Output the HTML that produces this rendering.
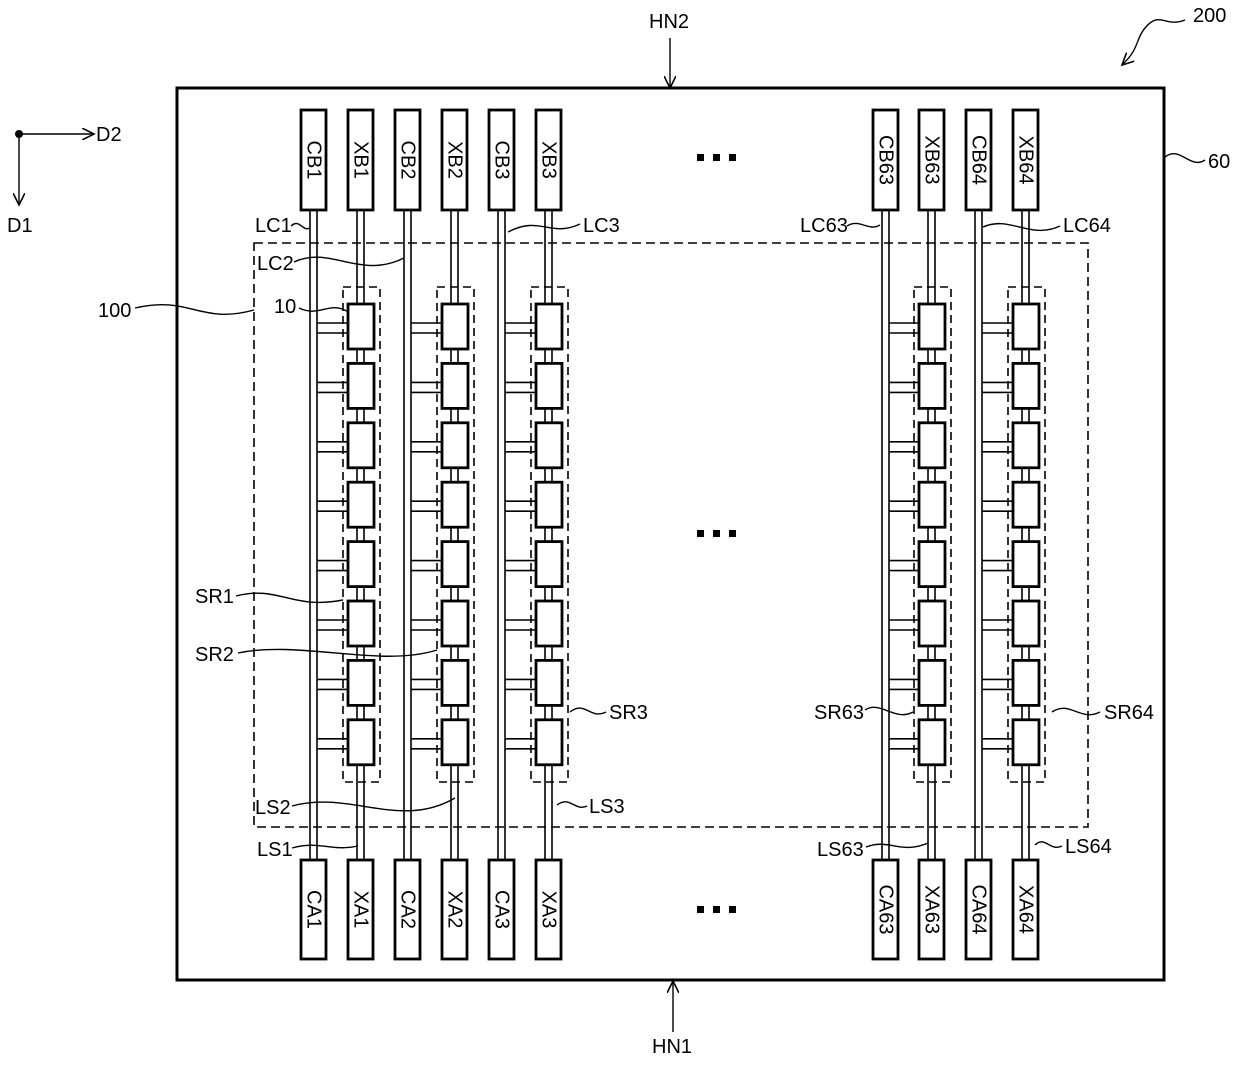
<!DOCTYPE html>
<html><head><meta charset="utf-8"><style>
html,body{margin:0;padding:0;background:#fff}
svg{display:block}
text{font-family:"Liberation Sans",sans-serif;fill:#000}
</style></head><body>
<svg width="1240" height="1067" viewBox="0 0 1240 1067" xmlns="http://www.w3.org/2000/svg">
<defs>
<marker id="ah" markerWidth="14" markerHeight="12" refX="12" refY="6" orient="auto" markerUnits="userSpaceOnUse">
<path d="M0,0 L12,6 L0,12" fill="none" stroke="#000" stroke-width="1.6"/>
</marker>
</defs>
<g fill="none" stroke="#000">
<rect x="177" y="88" width="987" height="892" stroke-width="3"/>
<rect x="254" y="243" width="834" height="584" stroke-width="1.6" stroke-dasharray="9,5"/>
</g>
<g id="cols"></g>
<script>
(function(){
var ns="http://www.w3.org/2000/svg",g=document.getElementById("cols");
function el(t,a,txt){var e=document.createElementNS(ns,t);for(var k in a)e.setAttribute(k,a[k]);if(txt)e.textContent=txt;g.appendChild(e);return e;}
function line(x1,y1,x2,y2,w){el("line",{x1:x1,y1:y1,x2:x2,y2:y2,stroke:"#000","stroke-width":w||1.6});}
function pad(x,y,h,lbl){el("rect",{x:x,y:y,width:25,height:h,fill:"#fff",stroke:"#000","stroke-width":2.8});
 var cx=x+12.5,cy=y+h/2;el("text",{x:cx,y:cy,"font-size":20,"text-anchor":"middle","dominant-baseline":"central",transform:"rotate(90 "+cx+" "+cy+")"},lbl);}
var cols=[[301,348,"1"],[395,442,"2"],[489,536,"3"],[873,919,"63"],[966,1013,"64"]];
cols.forEach(function(c){
 var cb=c[0],xb=c[1],n=c[2];
 line(cb+9,210,cb+9,860);line(cb+16,210,cb+16,860);
 el("rect",{x:xb-5,y:287,width:37,height:495,fill:"none",stroke:"#000","stroke-width":1.6,"stroke-dasharray":"8,5"});
 var tops=[];for(var i=0;i<8;i++)tops.push(304+59.4*i);
 line(xb+9,210,xb+9,304);line(xb+16,210,xb+16,304);
 for(i=0;i<8;i++){var t=tops[i];
  line(cb+16,t+19,xb,t+19);line(cb+16,t+29,xb,t+29);
  if(i<7){line(xb+9,t+45,xb+9,tops[i+1]);line(xb+16,t+45,xb+16,tops[i+1]);}
  el("rect",{x:xb,y:t,width:26,height:45,fill:"#fff",stroke:"#000","stroke-width":2.8});
 }
 line(xb+9,tops[7]+45,xb+9,860);line(xb+16,tops[7]+45,xb+16,860);
 pad(cb,110,100,"CB"+n);pad(xb,110,100,"XB"+n);
 pad(cb,860,99,"CA"+n);pad(xb,860,99,"XA"+n);
});
})();
</script>
<g fill="#000">
<rect x="697" y="154" width="7" height="7"/><rect x="713" y="154" width="7" height="7"/><rect x="729" y="154" width="7" height="7"/>
<rect x="697" y="530" width="7" height="7"/><rect x="713" y="530" width="7" height="7"/><rect x="729" y="530" width="7" height="7"/>
<rect x="697" y="906" width="7" height="7"/><rect x="713" y="906" width="7" height="7"/><rect x="729" y="906" width="7" height="7"/>
</g>
<g fill="none" stroke="#000" stroke-width="1.4">
<path d="M291,226 C300,218 302,232 310,228"/>
<path d="M294,262 C330,245 360,280 404,258"/>
<path d="M508,232 C540,215 550,238 580,224"/>
<path d="M299,308 C320,318 330,300 348,312"/>
<path d="M135,308 C190,295 200,325 254,310"/>
<path d="M236,596 C280,585 290,610 343,600"/>
<path d="M238,653 C300,640 380,668 437,650"/>
<path d="M570,712 C585,700 590,720 606,712"/>
<path d="M292,806 C350,790 400,830 455,798"/>
<path d="M292,848 C320,840 330,852 358,846"/>
<path d="M557,805 C570,795 575,812 587,806"/>
<path d="M847,226 C860,218 868,232 880,225"/>
<path d="M983,227 C1010,215 1030,240 1060,226"/>
<path d="M865,710 C880,700 895,722 913,712"/>
<path d="M1052,712 C1070,700 1080,722 1100,712"/>
<path d="M866,847 C890,838 900,855 928,843"/>
<path d="M1035,845 C1045,835 1050,852 1062,846"/>
<path d="M1165,157 C1180,145 1190,170 1205,160"/>
<path d="M1185,20 C1165,28 1160,10 1145,28 C1135,40 1140,48 1122,65" marker-end="url(#ah)"/>
<line x1="670" y1="38" x2="670" y2="88" marker-end="url(#ah)"/>
<line x1="673" y1="1032" x2="673" y2="981" marker-end="url(#ah)"/>
<line x1="19" y1="134" x2="94" y2="134" marker-end="url(#ah)"/>
<line x1="19" y1="134" x2="19" y2="205" marker-end="url(#ah)"/>
</g>
<circle cx="19" cy="134" r="4" fill="#000"/>
<g font-size="20">
<text x="96" y="141">D2</text>
<text x="7" y="232">D1</text>
<text x="649" y="28">HN2</text>
<text x="652" y="1053">HN1</text>
<text x="1193" y="22">200</text>
<text x="1208" y="168">60</text>
<text x="98" y="317">100</text>
<text x="274" y="313">10</text>
<text x="255" y="232">LC1</text>
<text x="257" y="270">LC2</text>
<text x="583" y="232">LC3</text>
<text x="800" y="232">LC63</text>
<text x="1063" y="232">LC64</text>
<text x="195" y="603">SR1</text>
<text x="195" y="661">SR2</text>
<text x="609" y="719">SR3</text>
<text x="814" y="719">SR63</text>
<text x="1104" y="719">SR64</text>
<text x="255" y="814">LS2</text>
<text x="257" y="856">LS1</text>
<text x="589" y="813">LS3</text>
<text x="817" y="856">LS63</text>
<text x="1065" y="853">LS64</text>
</g>
</svg>
</body></html>
